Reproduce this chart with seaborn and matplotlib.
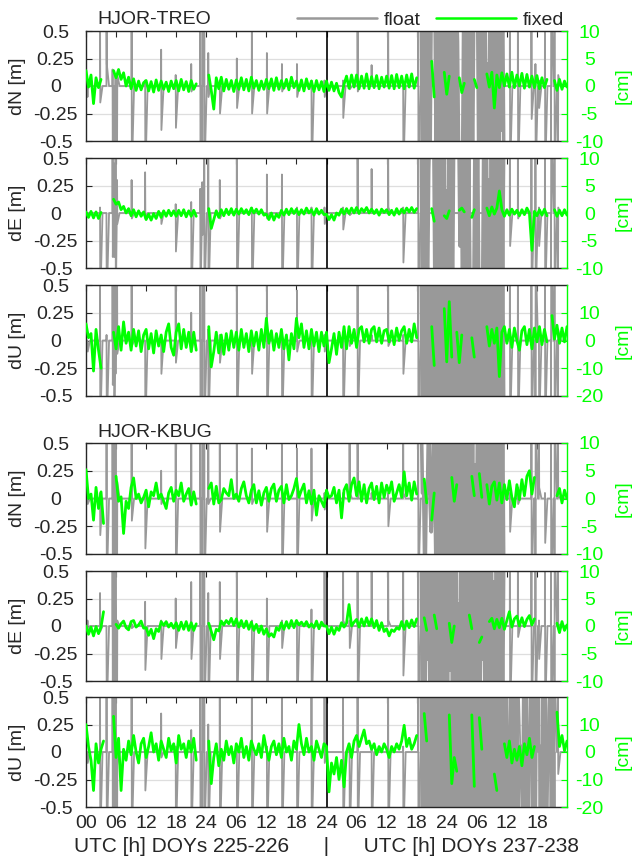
import numpy as np
import pandas as pd
import matplotlib
matplotlib.use("Agg")
import matplotlib.pyplot as plt
from matplotlib.lines import Line2D
import seaborn as sns

nan = np.nan

# ---------------------------------------------------------------- data
STEP_H = 0.5            # sampling interval of the fixed series [h]
DAY_BREAK_H = 48        # boundary between DOYs 225-226 and 237-238
X_TICKS = [0, 6, 12, 18, 24, 30, 36, 42, 48, 54, 60, 66, 72, 78, 84, 90]
X_TICK_LABELS = ["00", "06", "12", "18", "24", "06", "12", "18",
                 "24", "06", "12", "18", "24", "06", "12", "18"]
Y_TICKS = [-0.5, -0.25, 0, 0.25, 0.5]
Y_TICK_LABELS = ["-0.5", "-0.25", "0", "0.25", "0.5"]
X_LABEL = "UTC [h] DOYs 225-226      |      UTC [h] DOYs 237-238"
BASELINES = ["HJOR-TREO", "HJOR-KBUG"]
SERIES_NAMES = ["float", "fixed"]

# fixed solutions [cm], every 0.5 h from 0 to 96 h
FIX_DN_TREO = [
    2.8, -0.2, 2.0, -3.2, 1.5, -0.3, 1.2, nan, nan, nan, nan, 2.8,
    1.5, 3.0, 1.2, 2.4, 0.0, 1.6, -0.5, 1.3, -0.8, 0.9, -0.7, 0.6,
    1.0, -0.9, 0.8, -1.1, 1.1, -0.8, 0.9, -0.6, 0.7, -1.0, 0.9, -0.5,
    1.0, -0.9, 1.2, -0.7, 0.8, -1.0, 1.0, -0.6, 0.4, nan, nan, nan,
    nan, 2.0, -0.8, -4.2, 1.5, -0.5, 1.6, -0.9, 1.2, -0.6, 1.0, -1.0,
    1.1, -0.6, 1.5, -0.7, 1.2, -0.9, 1.6, -0.4, 1.0, -0.8, 0.9, -0.6,
    1.2, -0.5, 1.3, -0.8, 1.5, -0.6, 1.0, -0.4, 1.2, -0.7, 1.6, -0.3,
    0.9, -0.8, 1.1, -0.9, 1.3, -0.5, 0.9, -1.0, 1.0, -0.7, 0.8, -1.0,
    0.9, -0.8, 0.7, -0.9, 0.5, -1.2, -2.0, 0.3, 1.8, -0.4, 2.0, -0.2,
    2.0, -0.5, 1.8, -0.4, 2.2, -0.5, 1.7, -0.3, 1.9, -0.5, 1.6, -0.2,
    1.8, -0.4, 1.9, -0.5, 2.1, -0.3, 1.8, -0.5, 2.0, -0.2, 2.2, -0.4,
    1.5, nan, nan, nan, nan, nan, 4.5, -2.0, nan, nan, nan, 2.5,
    -1.5, 1.8, nan, nan, nan, 1.5, -1.2, 0.5, nan, nan, nan, 1.2,
    -0.3, nan, nan, nan, 2.2, -0.2, 2.5, -4.0, 2.0, -0.3, 2.4, 0.0,
    2.2, -0.2, 2.5, -0.3, 2.0, 0.0, 2.3, -0.4, 2.1, -0.2, 1.8, -0.3,
    1.9, -0.5, 1.5, -0.3, 1.2, nan, nan, 1.0, -0.8, 1.2, -0.6, 0.9,
    -0.2]
FIX_DE_TREO = [
    0.2, -0.8, 0.3, -0.9, 0.2, -1.0, 0.1, nan, nan, nan, nan, 2.5,
    1.6, 2.0, 0.6, 1.2, 0.0, 0.8, -0.5, 0.6, -0.7, 0.4, -0.6, 0.2,
    -1.2, -0.2, -1.3, -0.1, -1.0, 0.3, -0.8, 0.4, -0.6, 0.5, -0.5, 0.4,
    -0.6, 0.5, -0.5, 0.6, -0.7, 0.4, -0.6, 0.5, -0.6, nan, nan, nan,
    nan, 0.8, -2.8, -1.2, 0.4, -0.8, 0.6, -0.5, 0.7, -0.3, 0.8, -0.4,
    0.7, -0.2, 0.8, -0.1, 0.6, -0.3, 0.9, 0.0, 0.7, -0.2, 0.6, -0.4,
    -0.2, -1.2, 0.0, -1.3, -0.2, -0.8, 0.5, -0.4, 0.7, -0.3, 0.8, -0.1,
    0.7, -0.3, 0.6, -0.2, 0.9, 0.0, 0.6, -0.4, 0.8, -0.2, 0.5, -0.3,
    -0.2, -1.2, -0.3, -1.3, 0.0, -0.4, 0.7, -0.2, 0.8, -0.1, 0.9, 0.0,
    1.0, -0.1, 0.8, 0.2, 1.0, 0.0, 0.7, -0.1, 0.6, -0.4, 0.7, 0.1,
    0.6, -0.3, 0.5, -0.4, 0.8, -0.2, 0.7, 0.0, 0.9, 0.2, 1.0, 0.1,
    0.8, nan, nan, nan, nan, nan, 0.8, -1.5, nan, nan, nan, -0.5,
    -1.0, 0.4, nan, nan, nan, 0.5, 0.9, 0.2, nan, nan, -0.8, 0.6,
    nan, nan, nan, nan, 0.9, -0.5, 1.1, -0.2, 0.9, 4.0, 0.6, -0.6,
    0.6, -0.4, 0.7, -0.2, 0.5, -0.5, 0.6, -0.3, 0.9, 0.0, -6.8, 0.3,
    -0.5, 0.6, -0.4, 0.7, -0.5, nan, nan, 0.6, -0.6, 0.5, -0.5, 0.6,
    -0.4]
FIX_DU_TREO = [
    6.0, 1.0, 2.5, -11.0, 4.0, -3.5, -10.0, nan, nan, nan, nan, 3.0,
    -3.0, 5.0, -3.5, 6.7, -1.0, 3.0, -3.5, 4.0, -2.0, 3.5, -4.0, 2.0,
    4.0, -3.0, 2.5, -4.5, 3.5, -2.0, 2.0, -4.0, 3.0, 6.0, -2.5, -5.3,
    3.0, 6.0, -3.0, 4.0, -2.5, 3.0, -4.0, 3.0, -3.5, nan, nan, nan,
    nan, 5.0, -9.5, -4.0, 3.0, -4.5, 2.0, -5.0, 2.5, -3.5, 3.5, -2.5,
    3.0, -3.5, 4.0, -2.5, 2.5, -4.0, 3.5, -2.0, 3.0, -3.5, 4.0, -2.5,
    8.0, -1.0, 3.5, -3.5, 2.5, -2.5, 4.0, -3.0, 2.0, -7.0, 2.5, -3.0,
    8.0, 1.0, 6.0, -2.5, 3.5, -3.0, 4.0, -2.0, 3.0, -4.0, 3.0, -2.0,
    3.0, -8.0, -3.0, 2.5, -5.0, 3.0, -2.5, 5.0, -3.0, 5.0, -1.0, 4.0,
    -2.5, 4.0, 5.0, -0.5, 4.0, -1.0, 4.0, 5.0, -0.5, 4.5, -1.0, 3.5,
    4.0, -0.5, 3.5, -1.5, 4.5, 0.0, 3.5, 5.0, -1.0, 4.0, -0.5, 6.0,
    1.0, nan, nan, nan, nan, nan, 5.0, -9.0, nan, nan, nan, 11.5,
    -7.7, 14.0, -6.0, nan, 3.0, -8.0, 2.0, nan, nan, nan, 1.0, -6.0,
    nan, nan, nan, nan, 5.0, -2.0, 4.0, -1.0, 4.5, -13.0, 3.0, 5.0,
    -1.0, 4.0, -2.5, 4.5, 0.0, -3.5, 3.5, 5.0, -1.5, 4.0, -3.0, 4.5,
    -0.5, 5.0, -1.5, 4.0, -0.5, nan, 9.0, 0.5, 5.5, -1.0, 4.5, -0.5,
    5.0]
FIX_DN_KBUG = [
    5.2, 0.0, 0.8, -3.9, 2.0, -1.8, 1.2, -4.5, nan, nan, nan, nan,
    4.0, -0.5, 0.3, -6.3, -0.5, -1.8, 2.0, 3.7, 0.0, 0.8, -0.8, 0.2,
    1.5, -1.5, 1.2, 0.5, 2.8, 0.0, 0.8, -0.5, -1.8, 1.0, 2.0, -0.5,
    1.5, 0.5, 2.8, -0.5, 0.8, 1.8, -1.2, 1.2, -1.0, nan, nan, nan,
    nan, 1.8, 2.8, -1.0, 2.2, -0.8, -0.2, 1.8, 1.0, 0.5, 3.4, 0.0,
    0.8, -0.5, 1.8, 3.0, 0.5, -0.8, 1.5, 2.5, -0.8, 1.4, -1.2, 1.0,
    2.0, -0.5, 1.8, 2.6, -0.5, 1.5, 2.2, -0.8, 2.5, -0.2, 0.5, 1.8,
    3.6, 0.2, 1.5, 2.6, -0.8, 1.4, -1.0, 1.5, -3.0, 0.5, -0.5, -1.5,
    1.5, 0.2, 0.5, 2.0, -0.8, 1.5, -3.5, 1.5, 2.5, -0.5, 2.5, 3.7,
    0.5, 3.0, -0.5, 2.5, -0.8, 1.8, 2.8, -0.2, 2.2, -0.8, 2.8, 0.2,
    2.4, 1.0, 3.0, -0.5, 1.0, 2.5, 0.2, 4.8, 0.5, 2.8, -0.3, 3.0,
    0.8, nan, nan, 3.5, -0.8, nan, -3.9, 1.0, nan, nan, nan, nan,
    nan, nan, 3.8, -0.5, 2.5, nan, nan, nan, nan, nan, 4.0, 0.5,
    nan, 4.5, 0.2, nan, 2.5, -1.0, 2.2, 3.0, -0.3, 2.8, -0.8, 2.5,
    -0.2, 3.2, 0.2, -1.5, 2.5, -0.2, 3.4, 0.5, 4.0, 5.0, 0.8, 3.8,
    nan, nan, nan, nan, nan, nan, nan, nan, 0.5, 1.8, -0.8, 1.5,
    0.0]
FIX_DE_KBUG = [
    0.0, -1.5, -0.2, -1.8, -0.1, -1.4, -0.2, 2.6, nan, nan, nan, nan,
    0.3, -0.4, 0.4, 0.9, -0.3, -0.7, 0.8, 1.0, -0.2, 0.2, 0.9, -0.4,
    -0.3, -1.7, -0.6, -2.3, -0.5, -1.0, 0.8, 0.1, 0.8, -0.2, 0.5, -0.4,
    0.6, -0.8, 0.7, -0.6, 0.8, -0.8, 0.6, -0.8, 0.4, nan, nan, nan,
    nan, 0.5, -1.0, -2.5, -0.6, -0.9, 0.9, 0.2, 1.0, 0.4, 1.4, 0.1,
    1.3, -0.2, 1.0, -0.3, 0.9, -0.6, 0.7, -0.8, 0.3, -1.2, 0.0, -1.5,
    -0.5, -1.9, -1.4, -2.0, -0.3, -0.8, 0.6, -0.6, 0.8, -0.4, 1.0, -0.3,
    1.0, 0.2, 0.7, 0.0, 0.8, -0.2, 0.4, -0.3, 0.9, -0.5, 0.7, 0.0,
    0.0, -1.4, -0.2, -1.5, -0.3, -0.8, 0.6, -0.2, 0.5, 3.9, 0.0, 0.7,
    1.2, -0.2, 1.3, 0.0, 1.5, 0.1, 1.3, -0.3, 1.0, -0.8, 0.6, -1.0,
    -0.5, -1.8, -0.7, -1.0, -0.3, -0.6, 0.8, -0.6, 0.9, -0.3, 1.1, -0.1,
    1.3, nan, nan, 1.5, -0.8, nan, nan, 2.0, -0.5, nan, nan, nan,
    nan, 0.5, -3.0, 0.0, nan, nan, nan, nan, nan, 2.0, -0.5, nan,
    nan, -3.0, -2.0, nan, nan, 0.8, 1.4, -0.5, 1.2, -0.3, 1.4, -0.6,
    1.0, 2.6, -0.2, 1.3, 1.8, 0.0, 1.5, -0.1, 1.2, 1.9, 0.2, 1.3,
    nan, nan, nan, nan, nan, nan, nan, nan, 0.5, -1.2, 0.8, -0.8,
    0.2]
FIX_DU_KBUG = [
    10.0, 2.0, -3.0, -14.0, 3.0, -4.0, 1.0, 4.0, nan, nan, nan, 13.0,
    -2.0, 5.0, -14.0, 1.0, -3.0, 4.0, -1.0, 6.0, 0.0, -4.0, 3.0, 5.0,
    -2.0, 2.0, 7.0, 0.0, 3.0, -3.0, 4.0, 1.0, -2.0, 5.0, 0.5, 3.0,
    -4.0, 6.0, 1.0, 3.0, -2.0, 4.0, 0.0, 5.0, -3.0, nan, nan, nan,
    nan, 4.0, -11.5, -2.0, 3.0, -5.0, 1.0, -3.0, 4.0, -1.0, 2.0, -4.0,
    3.0, 0.0, 5.0, -2.0, 2.0, -3.0, 4.0, 1.0, -1.0, 3.0, -2.0, 6.0,
    1.0, -3.0, 2.0, 4.0, -1.0, 3.0, -2.0, 5.0, 0.0, 2.0, -3.0, 4.0,
    1.0, 10.0, 3.0, -1.0, 5.0, 0.0, 2.0, -3.0, 4.0, 1.0, -2.0, 3.0,
    2.0, -14.5, -4.0, -8.0, -2.0, -10.0, -3.0, -12.7, 0.0, 3.0, -2.0, 4.0,
    6.0, 2.0, 5.0, 8.0, 3.0, 4.0, 1.0, 3.0, -1.0, 2.0, 0.0, 3.0,
    1.0, -2.0, 2.0, 0.0, 3.0, 1.0, 4.0, 9.7, 2.0, 5.0, 1.0, 3.0,
    6.0, nan, nan, 14.0, 4.0, nan, nan, nan, nan, nan, nan, nan,
    nan, 13.5, -11.5, -2.0, -7.0, nan, nan, nan, nan, nan, 13.5, -12.5,
    nan, 12.5, 1.0, nan, nan, nan, nan, -8.0, -14.0, nan, nan, 3.0,
    -2.0, 4.0, -4.0, 1.0, -3.0, 2.0, -5.0, 3.0, -1.0, 5.0, -2.0, 2.0,
    nan, nan, nan, nan, nan, nan, nan, nan, 14.5, 2.0, 6.0, 0.5,
    4.0]

# float re-initialisation epochs [h] (common to all components)
SPIKE_T = [0.3, 2.8, 4.1, 5.3, 5.6, 5.9, 6.2, 9.1, 11.8, 15.0, 17.9, 21.0,
           22.8, 23.2, 23.6, 24.4, 26.7, 30.1, 33.1, 36.1, 39.1, 42.1, 45.0,
           47.6, 51.3, 52.6, 54.2, 57.0, 60.3, 63.3, 66.3, 84.6, 86.2, 88.9,
           89.7, 90.4, 91.6, 92.8, 93.5, 94.2]
# float excursions [m] at those epochs: (first value, second value)
FLT_DN_TREO = [
    (-0.1, 0.05), (0.8, -0.15), (0.8, 0.2), (0.15, -0.8), (-0.2, -0.8), (0.1, -0.8), (-0.6, 0.1), (0.8, -0.8),
    (0.05, -0.8), (0.33, -0.4), (0.1, -0.38), (0.2, -0.05), (0.8, -0.8), (-0.8, 0.8), (0.8, -0.8), (0.3, -0.1),
    (0.05, -0.25), (0.25, -0.2), (0.8, -0.25), (0.3, -0.25), (0.2, -0.05), (0.2, -0.1), (0.05, -0.8), (0.05, -0.1),
    (0.05, -0.29), (0.03, -0.03), (0.8, -0.05), (0.19, 0.0), (0.8, 0.05), (0.0, -0.8), (0.8, -0.8), (0.8, -0.8),
    (0.8, -0.8), (0.8, -0.3), (0.2, -0.8), (0.05, -0.2), (0.8, -0.8), (-0.8, 0.8), (0.8, -0.8), (-0.8, 0.1)]
FLT_DE_TREO = [
    (0.0, 0.0), (0.05, -0.8), (-0.33, -0.8), (0.8, -0.4), (0.45, -0.4), (0.8, -0.8), (0.3, -0.1), (0.3, -0.05),
    (0.37, -0.05), (0.0, -0.1), (0.08, -0.35), (0.1, -0.8), (0.22, -0.8), (0.28, -0.2), (0.5, -0.8), (0.8, -0.8),
    (0.3, -0.05), (0.8, -0.8), (0.05, -0.8), (0.35, -0.05), (0.35, -0.8), (0.05, -0.8), (0.05, -0.8), (0.05, -0.1),
    (0.05, -0.15), (0.0, -0.02), (0.8, 0.0), (0.4, 0.0), (0.8, 0.05), (0.05, -0.45), (0.8, -0.8), (0.8, -0.3),
    (0.8, -0.05), (0.8, -0.8), (0.8, -0.8), (0.05, -0.3), (0.8, -0.8), (-0.8, 0.8), (0.8, -0.8), (-0.8, 0.05)]
FLT_DU_TREO = [
    (0.0, -0.1), (0.8, -0.8), (0.05, -0.8), (0.8, -0.4), (0.8, -0.8), (-0.3, 0.8), (0.8, -0.12), (0.8, -0.05),
    (0.0, -0.8), (0.05, -0.3), (0.8, -0.2), (0.25, -0.1), (0.8, -0.8), (-0.8, 0.8), (0.8, -0.8), (0.1, -0.8),
    (0.05, -0.2), (0.8, -0.8), (0.05, -0.3), (0.8, -0.8), (0.05, -0.8), (0.45, -0.1), (0.05, -0.8), (0.05, -0.1),
    (0.05, -0.8), (0.0, -0.05), (0.8, -0.8), (0.05, 0.0), (0.8, -0.05), (0.05, -0.3), (0.8, -0.8), (0.8, -0.8),
    (0.8, -0.8), (0.8, -0.8), (-0.8, 0.8), (0.05, -0.8), (0.8, -0.8), (-0.8, 0.8), (0.8, -0.8), (-0.8, 0.1)]
FLT_DN_KBUG = [
    (0.0, -0.05), (0.05, -0.33), (0.8, -0.8), (0.8, -0.8), (-0.8, 0.8), (0.8, -0.8), (-0.8, 0.15), (0.8, -0.2),
    (0.05, -0.45), (0.25, -0.05), (0.8, -0.8), (0.8, 0.05), (0.8, -0.8), (-0.8, 0.8), (0.8, -0.8), (0.8, -0.05),
    (0.5, -0.3), (0.8, 0.0), (0.45, -0.05), (0.05, -0.3), (0.8, -0.8), (0.45, -0.8), (0.45, -0.2), (0.05, -0.1),
    (0.05, 0.02), (0.8, 0.05), (0.8, 0.0), (0.05, 0.0), (0.05, -0.25), (0.8, 0.05), (0.8, -0.8), (0.05, -0.3),
    (0.1, -0.05), (0.8, -0.8), (-0.8, 0.8), (0.8, 0.1), (0.05, -0.4), (0.8, -0.8), (-0.8, 0.8), (0.8, 0.02)]
FLT_DE_KBUG = [
    (0.05, -0.05), (0.3, -0.05), (-0.25, -0.8), (0.8, -0.8), (-0.8, 0.8), (0.8, -0.8), (-0.8, 0.05), (0.02, -0.02),
    (0.22, -0.4), (0.05, -0.3), (0.25, -0.2), (0.4, -0.3), (0.8, -0.8), (-0.8, 0.8), (0.8, -0.8), (0.3, -0.8),
    (0.4, -0.3), (0.8, -0.8), (0.05, -0.8), (0.25, -0.8), (0.05, -0.2), (0.05, -0.8), (0.15, -0.8), (0.8, 0.05),
    (0.8, 0.05), (0.05, -0.2), (0.8, -0.8), (0.8, 0.05), (0.8, 0.05), (0.8, -0.45), (0.8, -0.8), (0.8, -0.8),
    (0.8, -0.1), (0.8, -0.8), (0.8, -0.8), (0.05, -0.3), (0.8, -0.8), (0.8, -0.8), (-0.8, 0.8), (0.8, 0.02)]
FLT_DU_KBUG = [
    (0.0, -0.1), (0.8, -0.8), (0.8, -0.8), (0.8, -0.8), (-0.8, 0.8), (0.8, -0.8), (-0.8, -0.12), (0.8, -0.8),
    (0.05, -0.35), (0.35, -0.05), (0.05, -0.8), (0.2, -0.8), (0.8, -0.8), (-0.8, 0.8), (0.8, -0.8), (0.25, -0.8),
    (0.8, -0.8), (0.05, -0.8), (0.8, -0.8), (0.05, -0.8), (0.8, -0.8), (0.05, -0.8), (0.8, -0.8), (0.8, -0.1),
    (0.8, -0.8), (0.05, -0.8), (0.8, -0.8), (0.05, -0.8), (0.8, -0.8), (0.05, -0.8), (0.8, -0.8), (0.8, -0.8),
    (-0.8, 0.8), (0.8, -0.8), (-0.8, 0.8), (0.8, -0.8), (-0.8, 0.8), (0.8, -0.8), (-0.8, 0.8), (0.8, -0.2)]

# float during the disturbed interval of DOY 237-238 [m], every 0.25 h from 66.9 h
DENSE_START_H = 66.9
DENSE_STEP_H = 0.25
DENSE_DN_TREO = [
    0.8, -0.8, 0.8, -0.8, 0.6, -0.8, 0.8, -0.8, 0.8, 0.8, 0.8, 0.8,
    -0.8, 0.8, -0.8, 0.8, 0.3, -0.8, 0.8, -0.8, 0.8, -0.5, 0.8, -0.8,
    0.8, -0.8, 0.8, -0.8, 0.8, 0.4, -0.8, -0.8, -0.8, -0.8, 0.8, -0.8,
    0.8, -0.8, 0.8, -0.8, 0.8, -0.8, 0.8, 0.8, 0.8, 0.8, -0.8, 0.8,
    -0.8, 0.8, -0.8, 0.8, -0.8, 0.2, -0.8, 0.8, -0.8, 0.8, -0.8, 0.8,
    -0.8, 0.8, -0.8, 0.8, -0.4, 0.8, -0.8]
DENSE_DE_TREO = [
    0.8, -0.8, 0.8, -0.8, 0.8, -0.8, 0.4, 0.8, 0.8, 0.8, 0.8, -0.8,
    0.8, -0.6, 0.8, -0.8, 0.8, -0.8, 0.8, -0.8, 0.2, -0.8, 0.8, -0.8,
    0.8, -0.8, 0.8, 0.8, 0.8, 0.8, 0.8, -0.3, 0.8, -0.8, 0.8, -0.8,
    0.8, -0.8, 0.5, -0.8, -0.8, -0.8, -0.8, 0.8, -0.8, 0.8, -0.8, -0.8,
    -0.8, -0.8, 0.8, -0.8, 0.8, -0.8, 0.3, -0.8, 0.8, -0.8, 0.8, -0.8,
    0.8, -0.8, 0.8, -0.8, 0.8, -0.5, 0.8]
DENSE_DU_TREO = [
    0.8, -0.8, 0.8, -0.8, 0.8, -0.8, 0.8, -0.8, 0.8, -0.8, 0.8, -0.8,
    0.8, -0.8, 0.8, -0.8, 0.8, -0.8, 0.8, -0.8, 0.8, -0.8, 0.8, -0.8,
    -0.8, 0.8, -0.8, 0.8, -0.8, 0.8, -0.8, 0.8, -0.8, 0.8, -0.8, 0.8,
    -0.8, 0.8, -0.8, 0.8, -0.8, 0.8, -0.8, 0.8, -0.8, 0.8, -0.8, 0.8,
    -0.8, 0.8, -0.8, 0.8, -0.8, 0.8, -0.8, 0.8, -0.8, 0.8, -0.8, 0.8,
    -0.8, 0.8, -0.8, 0.8, -0.8, 0.8, -0.8]
DENSE_DN_KBUG = [
    0.8, 0.05, 0.05, -0.8, 0.05, 0.05, 0.8, 0.0, -0.3, 0.05, 0.8, 0.0,
    -0.8, 0.8, -0.8, 0.8, -0.8, 0.8, -0.8, 0.8, -0.8, 0.8, -0.8, 0.8,
    -0.8, 0.8, -0.8, 0.8, -0.5, 0.8, -0.8, 0.8, -0.8, 0.8, -0.8, 0.8,
    -0.8, 0.8, -0.8, 0.8, -0.8, 0.8, -0.8, 0.3, -0.8, 0.8, -0.8, 0.8,
    -0.8, 0.8, -0.8, 0.8, -0.8, 0.8, -0.8, 0.8, -0.8, 0.8, -0.8, 0.8,
    -0.8, 0.8, -0.8, 0.8, -0.8, 0.8, -0.8]
DENSE_DE_KBUG = [
    0.8, -0.8, 0.8, -0.8, 0.8, -0.3, 0.8, -0.8, 0.8, -0.8, 0.5, -0.8,
    0.8, -0.8, 0.8, -0.8, 0.8, -0.8, 0.8, -0.8, 0.8, -0.8, 0.8, -0.4,
    0.8, -0.8, 0.8, -0.8, 0.8, -0.8, 0.2, -0.8, 0.8, -0.8, 0.8, -0.8,
    0.8, -0.8, 0.8, -0.8, 0.8, -0.8, 0.8, -0.8, 0.8, -0.8, 0.8, -0.8,
    0.8, -0.3, 0.8, -0.8, 0.8, -0.8, 0.8, -0.8, 0.8, -0.8, 0.4, -0.8,
    0.8, -0.8, 0.8, -0.8, 0.8, -0.8, 0.8]
DENSE_DU_KBUG = [
    0.8, -0.8, 0.8, -0.8, 0.8, -0.8, 0.8, -0.8, 0.8, -0.8, 0.8, -0.8,
    0.8, -0.8, 0.8, -0.8, 0.8, -0.8, 0.8, -0.8, 0.8, -0.8, 0.8, -0.8,
    0.8, -0.8, 0.8, -0.8, 0.8, -0.8, 0.8, -0.8, 0.8, -0.8, 0.8, -0.8,
    0.8, -0.8, 0.8, -0.8, 0.8, -0.8, 0.8, -0.8, 0.8, -0.8, 0.8, -0.8,
    0.8, -0.8, 0.8, -0.8, 0.8, -0.8, 0.8, -0.8, 0.8, -0.8, 0.8, -0.8,
    0.8, -0.8, 0.8, -0.8, 0.8, -0.8, 0.8,
    -0.8, 0.8, -0.8, 0.05, 0.05, 0.8, -0.8, 0.8, -0.8, 0.8,
    -0.8, 0.05, 0.05, 0.05, -0.8, 0.8, -0.8, 0.8, -0.8, 0.05,
    0.05, 0.8, -0.8, 0.8, -0.8, 0.8, 0.05, 0.05, 0.05, -0.8,
    0.8, -0.8, 0.8, -0.8, 0.05, 0.05, 0.8, -0.8, 0.8, -0.8]

PANELS = [
    dict(fix=FIX_DN_TREO, flt=FLT_DN_TREO, dense=DENSE_DN_TREO, ylabel="dN [m]",
         rlim=(-10, 10), rticks=[-10, -5, 0, 5, 10], title=BASELINES[0]),
    dict(fix=FIX_DE_TREO, flt=FLT_DE_TREO, dense=DENSE_DE_TREO, ylabel="dE [m]",
         rlim=(-10, 10), rticks=[-10, -5, 0, 5, 10], title=None),
    dict(fix=FIX_DU_TREO, flt=FLT_DU_TREO, dense=DENSE_DU_TREO, ylabel="dU [m]",
         rlim=(-20, 20), rticks=[-20, -10, 0, 10], title=None),
    dict(fix=FIX_DN_KBUG, flt=FLT_DN_KBUG, dense=DENSE_DN_KBUG, ylabel="dN [m]",
         rlim=(-10, 10), rticks=[-10, -5, 0, 5, 10], title=BASELINES[1]),
    dict(fix=FIX_DE_KBUG, flt=FLT_DE_KBUG, dense=DENSE_DE_KBUG, ylabel="dE [m]",
         rlim=(-10, 10), rticks=[-10, -5, 0, 5, 10], title=None),
    dict(fix=FIX_DU_KBUG, flt=FLT_DU_KBUG, dense=DENSE_DU_KBUG, ylabel="dU [m]",
         rlim=(-20, 20), rticks=[-20, -10, 0, 10], title=None),
]


# ---------------------------------------------------------------- helpers
def fixed_frame(vals):
    v = np.asarray(vals, dtype=float)
    t = np.arange(len(v)) * STEP_H
    seg = np.cumsum(np.isnan(v))          # break the line at missing epochs
    return pd.DataFrame({"t": t, "v": v, "seg": seg}).dropna()


def float_frames(pairs, dense):
    starts = sorted(SPIKE_T + [DENSE_START_H])
    pts = [(0.0, 0.0)]
    for t, (v1, v2) in zip(SPIKE_T, pairs):
        later = [s for s in starts if s > t]
        nxt = later[0] if later else 96.0
        end = min(t + 0.5, nxt - 0.04)
        pts += [(t - 0.02, 0.0), (t, v1), (t + 0.05, v2), (end, 0.0)]
    pts.append((96.0, 0.0))
    spikes = pd.DataFrame(pts, columns=["t", "v"]).sort_values("t")
    dense_t = DENSE_START_H + DENSE_STEP_H * np.arange(len(dense))
    dense_df = pd.DataFrame({"t": dense_t, "v": dense})
    return spikes, dense_df


# ---------------------------------------------------------------- style
sns.set_style("white")
plt.rcParams["font.family"] = ["Liberation Sans", "DejaVu Sans"]
plt.rcParams["font.size"] = 14
plt.rcParams["path.simplify"] = False

GRAY = "#999999"
GREEN = "#00ff00"
DARK = "#262626"

W, H = 638, 866
fig = plt.figure(figsize=(W / 100, H / 100), dpi=100)
LEFT, RIGHT = 86, 567
BOXES = [(31, 141), (158, 268), (285, 396), (443, 554), (571, 681), (697, 807)]
TITLE_Y = {0: 19, 3: 433}
AXW = RIGHT - LEFT

for i, (p, (top, bot)) in enumerate(zip(PANELS, BOXES)):
    ax = fig.add_axes([LEFT / W, 1 - bot / H, AXW / W, (bot - top) / H])
    ax.set_axisbelow(True)
    ax.yaxis.grid(True, color="#dedede", lw=0.9)
    ax.xaxis.grid(False)

    sdf, ddf = float_frames(p["flt"], p["dense"])
    sns.lineplot(data=sdf, x="t", y="v", ax=ax, color=GRAY, lw=1.3,
                 estimator=None, sort=False, legend=False)
    sns.lineplot(data=ddf, x="t", y="v", ax=ax, color=GRAY, lw=2.6,
                 estimator=None, sort=False, legend=False)
    ax.axvline(DAY_BREAK_H, color="black", lw=1.2, zorder=4)

    ax.set_xlim(0, 96)
    ax.set_ylim(-0.5, 0.5)
    ax.set_xticks(X_TICKS)
    ax.set_yticks(Y_TICKS)
    ax.set_yticklabels(Y_TICK_LABELS)
    for lab in ax.get_yticklabels():
        lab.set_horizontalalignment("center")
    ax.tick_params(axis="both", direction="in", length=4, width=0.8,
                   color=DARK, top=True, right=False)
    ax.tick_params(axis="y", pad=22)
    ax.tick_params(axis="x", pad=6)
    if i == len(PANELS) - 1:
        ax.set_xticklabels(X_TICK_LABELS)
        ax.set_xlabel(X_LABEL, labelpad=3, fontsize=15)
    else:
        ax.tick_params(axis="x", labelbottom=False)
        ax.set_xlabel("")
    ax.set_ylabel(p["ylabel"], va="center")
    ax.yaxis.set_label_coords(-(LEFT - 18) / AXW, 0.5)
    for s in ["left", "top", "bottom"]:
        ax.spines[s].set_color(DARK)
        ax.spines[s].set_linewidth(1.0)
    ax.spines["right"].set_visible(False)

    ax2 = ax.twinx()
    gdf = fixed_frame(p["fix"])
    sns.lineplot(data=gdf, x="t", y="v", units="seg", ax=ax2, color=GREEN,
                 lw=2.0, estimator=None, legend=False)
    ax2.set_ylim(*p["rlim"])
    ax2.set_yticks(p["rticks"])
    ax2.set_yticklabels([str(v) for v in p["rticks"]])
    for lab in ax2.get_yticklabels():
        lab.set_horizontalalignment("center")
    ax2.tick_params(axis="y", direction="in", length=4, width=0.8,
                    colors=GREEN, pad=16)
    ax2.set_ylabel("[cm]", color=GREEN, va="center")
    ax2.yaxis.set_label_coords((623 - LEFT) / AXW, 0.5)
    for s in ["left", "top", "bottom"]:
        ax2.spines[s].set_visible(False)
    ax2.spines["right"].set_color(GREEN)
    ax2.spines["right"].set_linewidth(1.0)
    ax2.set_xlim(0, 96)

    if p["title"]:
        ax.text((97 - LEFT) / AXW, 1 + (top - TITLE_Y[i]) / (bot - top),
                p["title"], transform=ax.transAxes, ha="left", va="center")

handles = [Line2D([], [], color=GRAY, lw=1.8), Line2D([], [], color=GREEN, lw=1.8)]
fig.legend(handles, SERIES_NAMES, loc="center left",
           bbox_to_anchor=(297 / W, 1 - 20 / H), ncol=2, frameon=False,
           handlelength=4.1, handletextpad=0.35, columnspacing=0.8,
           borderpad=0, borderaxespad=0)

fig.savefig("out.png", dpi=100)
